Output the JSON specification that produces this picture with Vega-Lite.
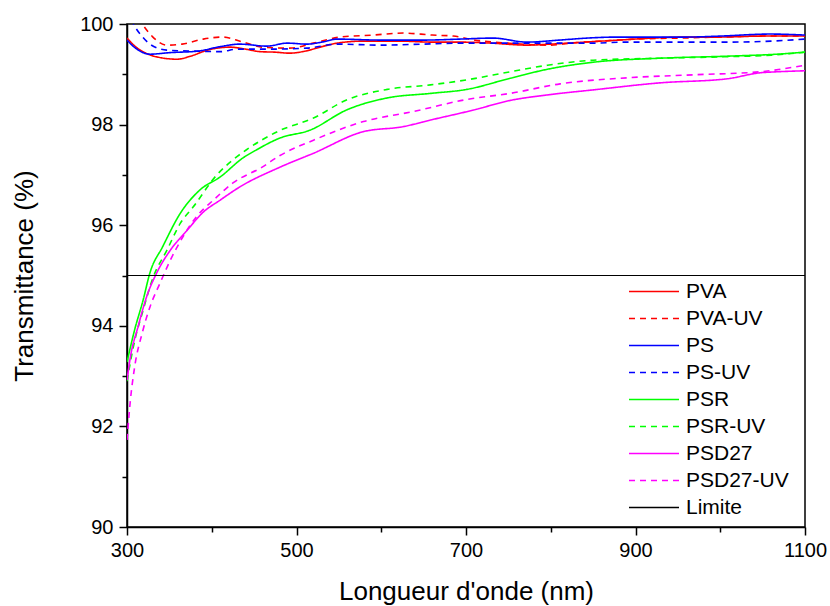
{
  "$schema": "https://vega.github.io/schema/vega-lite/v6.json",
  "width": 678,
  "height": 503,
  "autosize": {"type": "none"},
  "padding": {"left": 127, "top": 24, "right": 25, "bottom": 79},
  "background": "white",
  "config": {
    "view": {"stroke": "black", "strokeWidth": 1.5},
    "font": "Liberation Sans",
    "axis": {
      "grid": false,
      "domainColor": "black",
      "domainWidth": 1.5,
      "tickColor": "black",
      "tickWidth": 1.5,
      "labelColor": "black",
      "labelFont": "Liberation Sans",
      "labelFontSize": 20,
      "titleFont": "Liberation Sans",
      "titleFontSize": 26,
      "titleFontWeight": "normal",
      "titleColor": "black"
    },
    "legend": {"labelFont": "Liberation Sans"}
  },
  "datasets": {
    "curves": [
      {"s": "PVA", "x": 300, "y": 99.72}, {"s": "PVA", "x": 310, "y": 99.55}, {"s": "PVA", "x": 325, "y": 99.4}, {"s": "PVA", "x": 340, "y": 99.33}, {"s": "PVA", "x": 359, "y": 99.3}, {"s": "PVA", "x": 375, "y": 99.36}, {"s": "PVA", "x": 395, "y": 99.48}, {"s": "PVA", "x": 421, "y": 99.54}, {"s": "PVA", "x": 440, "y": 99.5}, {"s": "PVA", "x": 457, "y": 99.45}, {"s": "PVA", "x": 475, "y": 99.44}, {"s": "PVA", "x": 492, "y": 99.42}, {"s": "PVA", "x": 510, "y": 99.46}, {"s": "PVA", "x": 530, "y": 99.55}, {"s": "PVA", "x": 548, "y": 99.62}, {"s": "PVA", "x": 580, "y": 99.66}, {"s": "PVA", "x": 620, "y": 99.66}, {"s": "PVA", "x": 660, "y": 99.64}, {"s": "PVA", "x": 693, "y": 99.64}, {"s": "PVA", "x": 729, "y": 99.62}, {"s": "PVA", "x": 772, "y": 99.58}, {"s": "PVA", "x": 800, "y": 99.6}, {"s": "PVA", "x": 840, "y": 99.64}, {"s": "PVA", "x": 880, "y": 99.68}, {"s": "PVA", "x": 920, "y": 99.72}, {"s": "PVA", "x": 960, "y": 99.74}, {"s": "PVA", "x": 1000, "y": 99.74}, {"s": "PVA", "x": 1050, "y": 99.76}, {"s": "PVA", "x": 1100, "y": 99.76},
      {"s": "PVA-UV", "x": 300, "y": 100.5}, {"s": "PVA-UV", "x": 310, "y": 100.2}, {"s": "PVA-UV", "x": 318, "y": 100.0}, {"s": "PVA-UV", "x": 330, "y": 99.75}, {"s": "PVA-UV", "x": 347, "y": 99.58}, {"s": "PVA-UV", "x": 365, "y": 99.6}, {"s": "PVA-UV", "x": 390, "y": 99.7}, {"s": "PVA-UV", "x": 413, "y": 99.74}, {"s": "PVA-UV", "x": 435, "y": 99.65}, {"s": "PVA-UV", "x": 460, "y": 99.54}, {"s": "PVA-UV", "x": 492, "y": 99.52}, {"s": "PVA-UV", "x": 520, "y": 99.62}, {"s": "PVA-UV", "x": 551, "y": 99.74}, {"s": "PVA-UV", "x": 590, "y": 99.78}, {"s": "PVA-UV", "x": 626, "y": 99.82}, {"s": "PVA-UV", "x": 660, "y": 99.78}, {"s": "PVA-UV", "x": 685, "y": 99.76}, {"s": "PVA-UV", "x": 710, "y": 99.68}, {"s": "PVA-UV", "x": 750, "y": 99.62}, {"s": "PVA-UV", "x": 799, "y": 99.58}, {"s": "PVA-UV", "x": 823, "y": 99.62}, {"s": "PVA-UV", "x": 860, "y": 99.66}, {"s": "PVA-UV", "x": 900, "y": 99.7}, {"s": "PVA-UV", "x": 950, "y": 99.72}, {"s": "PVA-UV", "x": 1000, "y": 99.74}, {"s": "PVA-UV", "x": 1050, "y": 99.76}, {"s": "PVA-UV", "x": 1100, "y": 99.76},
      {"s": "PS", "x": 300, "y": 99.68}, {"s": "PS", "x": 310, "y": 99.52}, {"s": "PS", "x": 327, "y": 99.4}, {"s": "PS", "x": 350, "y": 99.43}, {"s": "PS", "x": 383, "y": 99.46}, {"s": "PS", "x": 410, "y": 99.55}, {"s": "PS", "x": 433, "y": 99.6}, {"s": "PS", "x": 465, "y": 99.56}, {"s": "PS", "x": 489, "y": 99.62}, {"s": "PS", "x": 512, "y": 99.6}, {"s": "PS", "x": 530, "y": 99.64}, {"s": "PS", "x": 548, "y": 99.7}, {"s": "PS", "x": 600, "y": 99.68}, {"s": "PS", "x": 650, "y": 99.68}, {"s": "PS", "x": 693, "y": 99.7}, {"s": "PS", "x": 732, "y": 99.72}, {"s": "PS", "x": 772, "y": 99.64}, {"s": "PS", "x": 810, "y": 99.68}, {"s": "PS", "x": 843, "y": 99.72}, {"s": "PS", "x": 878, "y": 99.74}, {"s": "PS", "x": 920, "y": 99.74}, {"s": "PS", "x": 960, "y": 99.74}, {"s": "PS", "x": 1000, "y": 99.76}, {"s": "PS", "x": 1059, "y": 99.8}, {"s": "PS", "x": 1100, "y": 99.78},
      {"s": "PS-UV", "x": 300, "y": 100.3}, {"s": "PS-UV", "x": 309, "y": 99.96}, {"s": "PS-UV", "x": 318, "y": 99.75}, {"s": "PS-UV", "x": 327, "y": 99.6}, {"s": "PS-UV", "x": 347, "y": 99.48}, {"s": "PS-UV", "x": 380, "y": 99.46}, {"s": "PS-UV", "x": 410, "y": 99.45}, {"s": "PS-UV", "x": 430, "y": 99.5}, {"s": "PS-UV", "x": 469, "y": 99.5}, {"s": "PS-UV", "x": 512, "y": 99.52}, {"s": "PS-UV", "x": 548, "y": 99.6}, {"s": "PS-UV", "x": 600, "y": 99.58}, {"s": "PS-UV", "x": 650, "y": 99.6}, {"s": "PS-UV", "x": 693, "y": 99.62}, {"s": "PS-UV", "x": 750, "y": 99.62}, {"s": "PS-UV", "x": 850, "y": 99.62}, {"s": "PS-UV", "x": 890, "y": 99.64}, {"s": "PS-UV", "x": 950, "y": 99.64}, {"s": "PS-UV", "x": 1008, "y": 99.64}, {"s": "PS-UV", "x": 1060, "y": 99.66}, {"s": "PS-UV", "x": 1100, "y": 99.7},
      {"s": "PSR", "x": 300, "y": 93.28}, {"s": "PSR", "x": 309, "y": 93.92}, {"s": "PSR", "x": 319, "y": 94.51}, {"s": "PSR", "x": 327, "y": 95.05}, {"s": "PSR", "x": 342, "y": 95.57}, {"s": "PSR", "x": 363, "y": 96.24}, {"s": "PSR", "x": 386, "y": 96.7}, {"s": "PSR", "x": 410, "y": 96.96}, {"s": "PSR", "x": 437, "y": 97.34}, {"s": "PSR", "x": 453, "y": 97.5}, {"s": "PSR", "x": 480, "y": 97.73}, {"s": "PSR", "x": 516, "y": 97.89}, {"s": "PSR", "x": 559, "y": 98.29}, {"s": "PSR", "x": 607, "y": 98.53}, {"s": "PSR", "x": 658, "y": 98.62}, {"s": "PSR", "x": 701, "y": 98.7}, {"s": "PSR", "x": 752, "y": 98.92}, {"s": "PSR", "x": 796, "y": 99.1}, {"s": "PSR", "x": 850, "y": 99.24}, {"s": "PSR", "x": 929, "y": 99.32}, {"s": "PSR", "x": 1008, "y": 99.36}, {"s": "PSR", "x": 1067, "y": 99.4}, {"s": "PSR", "x": 1100, "y": 99.44},
      {"s": "PSR-UV", "x": 300, "y": 92.9}, {"s": "PSR-UV", "x": 309, "y": 93.7}, {"s": "PSR-UV", "x": 318, "y": 94.25}, {"s": "PSR-UV", "x": 331, "y": 94.97}, {"s": "PSR-UV", "x": 347, "y": 95.5}, {"s": "PSR-UV", "x": 363, "y": 96.04}, {"s": "PSR-UV", "x": 378, "y": 96.36}, {"s": "PSR-UV", "x": 406, "y": 97.0}, {"s": "PSR-UV", "x": 425, "y": 97.3}, {"s": "PSR-UV", "x": 441, "y": 97.5}, {"s": "PSR-UV", "x": 480, "y": 97.88}, {"s": "PSR-UV", "x": 520, "y": 98.13}, {"s": "PSR-UV", "x": 559, "y": 98.49}, {"s": "PSR-UV", "x": 607, "y": 98.7}, {"s": "PSR-UV", "x": 658, "y": 98.79}, {"s": "PSR-UV", "x": 701, "y": 98.89}, {"s": "PSR-UV", "x": 752, "y": 99.05}, {"s": "PSR-UV", "x": 796, "y": 99.18}, {"s": "PSR-UV", "x": 850, "y": 99.28}, {"s": "PSR-UV", "x": 929, "y": 99.32}, {"s": "PSR-UV", "x": 1008, "y": 99.35}, {"s": "PSR-UV", "x": 1060, "y": 99.38}, {"s": "PSR-UV", "x": 1100, "y": 99.44},
      {"s": "PSD27", "x": 300, "y": 92.92}, {"s": "PSD27", "x": 304, "y": 93.38}, {"s": "PSD27", "x": 313, "y": 93.98}, {"s": "PSD27", "x": 323, "y": 94.57}, {"s": "PSD27", "x": 335, "y": 95.05}, {"s": "PSD27", "x": 351, "y": 95.5}, {"s": "PSD27", "x": 371, "y": 95.9}, {"s": "PSD27", "x": 390, "y": 96.26}, {"s": "PSD27", "x": 410, "y": 96.5}, {"s": "PSD27", "x": 433, "y": 96.76}, {"s": "PSD27", "x": 480, "y": 97.15}, {"s": "PSD27", "x": 520, "y": 97.43}, {"s": "PSD27", "x": 579, "y": 97.86}, {"s": "PSD27", "x": 626, "y": 97.96}, {"s": "PSD27", "x": 658, "y": 98.09}, {"s": "PSD27", "x": 709, "y": 98.29}, {"s": "PSD27", "x": 752, "y": 98.48}, {"s": "PSD27", "x": 796, "y": 98.59}, {"s": "PSD27", "x": 850, "y": 98.69}, {"s": "PSD27", "x": 929, "y": 98.83}, {"s": "PSD27", "x": 1008, "y": 98.91}, {"s": "PSD27", "x": 1047, "y": 99.03}, {"s": "PSD27", "x": 1067, "y": 99.05}, {"s": "PSD27", "x": 1100, "y": 99.07},
      {"s": "PSD27-UV", "x": 300, "y": 91.73}, {"s": "PSD27-UV", "x": 304, "y": 92.52}, {"s": "PSD27-UV", "x": 309, "y": 93.18}, {"s": "PSD27-UV", "x": 318, "y": 93.86}, {"s": "PSD27-UV", "x": 327, "y": 94.37}, {"s": "PSD27-UV", "x": 339, "y": 94.85}, {"s": "PSD27-UV", "x": 351, "y": 95.3}, {"s": "PSD27-UV", "x": 366, "y": 95.77}, {"s": "PSD27-UV", "x": 382, "y": 96.17}, {"s": "PSD27-UV", "x": 402, "y": 96.5}, {"s": "PSD27-UV", "x": 425, "y": 96.84}, {"s": "PSD27-UV", "x": 460, "y": 97.16}, {"s": "PSD27-UV", "x": 480, "y": 97.38}, {"s": "PSD27-UV", "x": 520, "y": 97.69}, {"s": "PSD27-UV", "x": 579, "y": 98.06}, {"s": "PSD27-UV", "x": 638, "y": 98.26}, {"s": "PSD27-UV", "x": 701, "y": 98.5}, {"s": "PSD27-UV", "x": 752, "y": 98.62}, {"s": "PSD27-UV", "x": 811, "y": 98.81}, {"s": "PSD27-UV", "x": 890, "y": 98.93}, {"s": "PSD27-UV", "x": 969, "y": 98.99}, {"s": "PSD27-UV", "x": 1047, "y": 99.05}, {"s": "PSD27-UV", "x": 1100, "y": 99.18}
    ],
    "limit": [
      {"s": "Limite", "x": 300, "y": 95},
      {"s": "Limite", "x": 1100, "y": 95}
    ]
  },
  "resolve": {"axis": {"x": "independent", "y": "independent"}},
  "layer": [
    {
      "data": {"name": "curves"},
      "mark": {"type": "line", "strokeWidth": 1.6, "interpolate": "monotone", "clip": true},
      "encoding": {
        "x": {
          "field": "x", "type": "quantitative",
          "scale": {"domain": [300, 1100], "nice": false, "zero": false},
          "axis": {"orient": "bottom", "values": [300, 500, 700, 900, 1100], "format": "d", "tickSize": 8, "labelPadding": 5, "title": "Longueur d'onde (nm)", "titlePadding": 18, "labelFlush": false}
        },
        "y": {
          "field": "y", "type": "quantitative",
          "scale": {"domain": [90, 100], "nice": false, "zero": false},
          "axis": {"orient": "left", "values": [90, 92, 94, 96, 98, 100], "format": "d", "tickSize": 8, "labelPadding": 6, "title": "Transmittance (%)", "titlePadding": 42}
        },
        "color": {
          "field": "s", "type": "nominal",
          "scale": {
            "domain": ["PVA", "PVA-UV", "PS", "PS-UV", "PSR", "PSR-UV", "PSD27", "PSD27-UV", "Limite"],
            "range": ["#ff0000", "#ff0000", "#0000ff", "#0000ff", "#00ff00", "#00ff00", "#ff00ff", "#ff00ff", "#000000"]
          },
          "legend": {
            "title": null, "orient": "none", "legendX": 501, "legendY": 254,
            "symbolType": "stroke", "symbolSize": 2500, "symbolStrokeWidth": 1.6,
            "labelFontSize": 21, "labelColor": "black", "labelOffset": 6, "rowPadding": 0, "padding": 0, "clipHeight": 27
          }
        },
        "strokeDash": {
          "field": "s", "type": "nominal",
          "scale": {
            "domain": ["PVA", "PVA-UV", "PS", "PS-UV", "PSR", "PSR-UV", "PSD27", "PSD27-UV", "Limite"],
            "range": [[1, 0], [6, 5], [1, 0], [6, 5], [1, 0], [6, 5], [1, 0], [6, 5], [1, 0]]
          },
          "legend": {
            "title": null, "orient": "none", "legendX": 501, "legendY": 254,
            "symbolType": "stroke", "symbolSize": 2500, "symbolStrokeWidth": 1.6,
            "labelFontSize": 21, "labelColor": "black", "labelOffset": 6, "rowPadding": 0, "padding": 0, "clipHeight": 27
          }
        }
      }
    },
    {
      "data": {"name": "limit"},
      "mark": {"type": "line", "strokeWidth": 1},
      "encoding": {
        "x": {
          "field": "x", "type": "quantitative",
          "scale": {"domain": [300, 1100], "nice": false, "zero": false},
          "axis": {"orient": "bottom", "values": [400, 600, 800, 1000], "tickSize": 5, "labels": false, "title": null, "domain": false}
        },
        "y": {
          "field": "y", "type": "quantitative",
          "scale": {"domain": [90, 100], "nice": false, "zero": false},
          "axis": {"orient": "left", "values": [91, 93, 95, 97, 99], "tickSize": 5, "labels": false, "title": null, "domain": false}
        },
        "color": {"field": "s", "type": "nominal"},
        "strokeDash": {"field": "s", "type": "nominal"}
      }
    }
  ]
}
